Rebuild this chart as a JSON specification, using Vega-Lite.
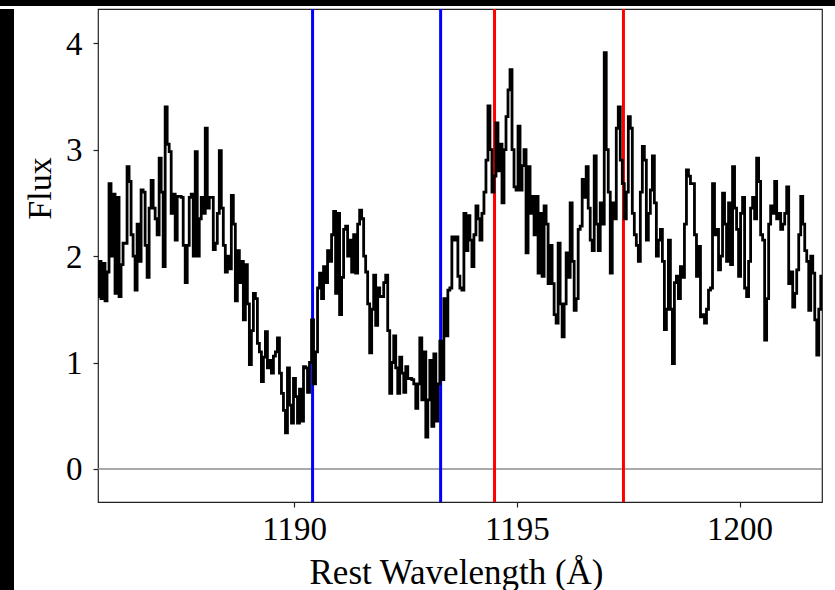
{
"$schema": "https://vega.github.io/schema/vega-lite/v6.json",
"background": "white",
"padding": 0,
"spacing": 0,
"config": {"font": "Liberation Serif", "view": {"stroke": null}},
"datasets": {
"spec": [
{"w":1185.600,"f":1.62},{"w":1185.645,"f":1.95},{"w":1185.690,"f":1.60},{"w":1185.735,"f":1.93},{"w":1185.780,"f":1.58},{"w":1185.825,"f":1.85},{"w":1185.870,"f":2.68},{"w":1185.915,"f":2.00},{"w":1185.960,"f":2.58},{"w":1186.005,"f":1.65},{"w":1186.050,"f":2.55},{"w":1186.095,"f":1.62},{"w":1186.140,"f":1.92},{"w":1186.185,"f":2.12},{"w":1186.230,"f":2.12},{"w":1186.275,"f":2.84},{"w":1186.320,"f":2.70},{"w":1186.365,"f":2.20},{"w":1186.410,"f":2.00},{"w":1186.455,"f":1.68},
{"w":1186.500,"f":2.30},{"w":1186.545,"f":1.95},{"w":1186.590,"f":2.62},{"w":1186.635,"f":2.60},{"w":1186.680,"f":2.10},{"w":1186.725,"f":1.80},{"w":1186.770,"f":2.45},{"w":1186.815,"f":2.71},{"w":1186.860,"f":2.45},{"w":1186.905,"f":2.35},{"w":1186.950,"f":2.20},{"w":1186.995,"f":2.92},{"w":1187.040,"f":2.60},{"w":1187.085,"f":1.90},{"w":1187.130,"f":3.40},{"w":1187.175,"f":3.05},{"w":1187.220,"f":2.98},{"w":1187.265,"f":2.40},{"w":1187.310,"f":2.58},{"w":1187.355,"f":2.15},
{"w":1187.400,"f":2.56},{"w":1187.445,"f":2.56},{"w":1187.490,"f":2.55},{"w":1187.535,"f":2.10},{"w":1187.580,"f":1.75},{"w":1187.625,"f":2.10},{"w":1187.670,"f":2.55},{"w":1187.715,"f":2.58},{"w":1187.760,"f":2.00},{"w":1187.805,"f":2.98},{"w":1187.850,"f":2.00},{"w":1187.895,"f":2.35},{"w":1187.940,"f":2.55},{"w":1187.985,"f":2.40},{"w":1188.030,"f":3.20},{"w":1188.075,"f":2.45},{"w":1188.120,"f":2.55},{"w":1188.165,"f":2.55},{"w":1188.210,"f":2.06},{"w":1188.255,"f":2.12},
{"w":1188.300,"f":2.40},{"w":1188.345,"f":2.99},{"w":1188.390,"f":2.45},{"w":1188.435,"f":2.10},{"w":1188.480,"f":1.85},{"w":1188.525,"f":2.00},{"w":1188.570,"f":1.88},{"w":1188.615,"f":2.57},{"w":1188.660,"f":2.30},{"w":1188.705,"f":1.58},{"w":1188.750,"f":2.05},{"w":1188.795,"f":1.75},{"w":1188.840,"f":1.95},{"w":1188.885,"f":1.40},{"w":1188.930,"f":1.92},{"w":1188.975,"f":1.55},{"w":1189.020,"f":0.98},{"w":1189.065,"f":1.30},{"w":1189.110,"f":1.65},{"w":1189.155,"f":1.60},
{"w":1189.200,"f":1.18},{"w":1189.245,"f":1.10},{"w":1189.290,"f":0.82},{"w":1189.335,"f":1.05},{"w":1189.380,"f":1.29},{"w":1189.425,"f":0.95},{"w":1189.470,"f":1.02},{"w":1189.515,"f":0.90},{"w":1189.560,"f":1.06},{"w":1189.605,"f":1.10},{"w":1189.650,"f":1.23},{"w":1189.695,"f":0.90},{"w":1189.740,"f":0.71},{"w":1189.785,"f":0.55},{"w":1189.830,"f":0.34},{"w":1189.875,"f":0.95},{"w":1189.920,"f":0.60},{"w":1189.965,"f":0.43},{"w":1190.010,"f":0.85},{"w":1190.055,"f":0.68},
{"w":1190.100,"f":0.43},{"w":1190.145,"f":0.75},{"w":1190.190,"f":0.45},{"w":1190.235,"f":0.96},{"w":1190.280,"f":0.95},{"w":1190.325,"f":0.72},{"w":1190.370,"f":1.00},{"w":1190.415,"f":1.40},{"w":1190.460,"f":0.80},{"w":1190.505,"f":1.10},{"w":1190.550,"f":1.70},{"w":1190.595,"f":1.84},{"w":1190.640,"f":1.60},{"w":1190.685,"f":1.90},{"w":1190.730,"f":1.75},{"w":1190.775,"f":2.05},{"w":1190.820,"f":1.95},{"w":1190.865,"f":2.20},{"w":1190.910,"f":2.42},{"w":1190.955,"f":1.65},
{"w":1191.000,"f":2.40},{"w":1191.045,"f":1.45},{"w":1191.090,"f":1.80},{"w":1191.135,"f":2.25},{"w":1191.180,"f":2.28},{"w":1191.225,"f":2.00},{"w":1191.270,"f":2.15},{"w":1191.315,"f":1.85},{"w":1191.360,"f":2.20},{"w":1191.405,"f":1.84},{"w":1191.450,"f":2.30},{"w":1191.495,"f":2.43},{"w":1191.540,"f":2.35},{"w":1191.585,"f":2.00},{"w":1191.630,"f":1.85},{"w":1191.675,"f":1.55},{"w":1191.720,"f":1.09},{"w":1191.765,"f":1.50},{"w":1191.810,"f":1.82},{"w":1191.855,"f":1.35},
{"w":1191.900,"f":1.70},{"w":1191.945,"f":1.62},{"w":1191.990,"f":1.62},{"w":1192.035,"f":1.75},{"w":1192.080,"f":1.82},{"w":1192.125,"f":1.30},{"w":1192.170,"f":0.71},{"w":1192.215,"f":1.00},{"w":1192.260,"f":1.25},{"w":1192.305,"f":0.95},{"w":1192.350,"f":0.71},{"w":1192.395,"f":1.05},{"w":1192.440,"f":0.90},{"w":1192.485,"f":0.72},{"w":1192.530,"f":0.96},{"w":1192.575,"f":0.85},{"w":1192.620,"f":0.85},{"w":1192.665,"f":0.84},{"w":1192.710,"f":0.80},{"w":1192.755,"f":0.57},
{"w":1192.800,"f":0.80},{"w":1192.845,"f":1.23},{"w":1192.890,"f":0.65},{"w":1192.935,"f":1.10},{"w":1192.980,"f":0.30},{"w":1193.025,"f":0.65},{"w":1193.070,"f":1.02},{"w":1193.115,"f":0.40},{"w":1193.160,"f":1.08},{"w":1193.205,"f":0.45},{"w":1193.250,"f":0.80},{"w":1193.295,"f":1.20},{"w":1193.340,"f":0.84},{"w":1193.385,"f":1.60},{"w":1193.430,"f":1.25},{"w":1193.475,"f":1.68},{"w":1193.520,"f":1.70},{"w":1193.565,"f":2.18},{"w":1193.610,"f":2.15},{"w":1193.655,"f":2.18},
{"w":1193.700,"f":1.81},{"w":1193.745,"f":1.70},{"w":1193.790,"f":1.68},{"w":1193.835,"f":2.40},{"w":1193.880,"f":2.05},{"w":1193.925,"f":2.38},{"w":1193.970,"f":2.15},{"w":1194.015,"f":1.90},{"w":1194.060,"f":2.20},{"w":1194.105,"f":2.47},{"w":1194.150,"f":2.35},{"w":1194.195,"f":2.15},{"w":1194.240,"f":2.40},{"w":1194.285,"f":2.60},{"w":1194.330,"f":2.90},{"w":1194.375,"f":3.41},{"w":1194.420,"f":3.00},{"w":1194.465,"f":2.60},{"w":1194.510,"f":2.75},{"w":1194.555,"f":3.25},
{"w":1194.600,"f":2.80},{"w":1194.645,"f":3.05},{"w":1194.690,"f":2.50},{"w":1194.735,"f":3.00},{"w":1194.780,"f":3.31},{"w":1194.825,"f":3.56},{"w":1194.870,"f":3.75},{"w":1194.915,"f":3.00},{"w":1194.960,"f":2.65},{"w":1195.005,"f":2.62},{"w":1195.050,"f":3.22},{"w":1195.095,"f":2.62},{"w":1195.140,"f":2.85},{"w":1195.185,"f":3.00},{"w":1195.230,"f":2.03},{"w":1195.275,"f":2.84},{"w":1195.320,"f":2.40},{"w":1195.365,"f":2.56},{"w":1195.410,"f":2.20},{"w":1195.455,"f":2.56},
{"w":1195.500,"f":1.84},{"w":1195.545,"f":2.40},{"w":1195.590,"f":1.81},{"w":1195.635,"f":2.47},{"w":1195.680,"f":2.30},{"w":1195.725,"f":1.74},{"w":1195.770,"f":2.10},{"w":1195.815,"f":1.74},{"w":1195.860,"f":1.45},{"w":1195.905,"f":1.37},{"w":1195.950,"f":2.12},{"w":1195.995,"f":1.55},{"w":1196.040,"f":1.24},{"w":1196.085,"f":1.55},{"w":1196.130,"f":2.03},{"w":1196.175,"f":1.80},{"w":1196.220,"f":2.50},{"w":1196.265,"f":1.95},{"w":1196.310,"f":1.49},{"w":1196.355,"f":1.60},
{"w":1196.400,"f":2.25},{"w":1196.445,"f":2.28},{"w":1196.490,"f":2.72},{"w":1196.535,"f":2.55},{"w":1196.580,"f":2.84},{"w":1196.625,"f":2.45},{"w":1196.670,"f":2.15},{"w":1196.715,"f":2.05},{"w":1196.760,"f":2.94},{"w":1196.805,"f":2.30},{"w":1196.850,"f":2.05},{"w":1196.895,"f":2.50},{"w":1196.940,"f":2.30},{"w":1196.985,"f":3.91},{"w":1197.030,"f":3.00},{"w":1197.075,"f":2.60},{"w":1197.120,"f":1.84},{"w":1197.165,"f":2.50},{"w":1197.210,"f":2.35},{"w":1197.255,"f":3.20},
{"w":1197.300,"f":3.40},{"w":1197.345,"f":2.90},{"w":1197.390,"f":2.68},{"w":1197.435,"f":2.35},{"w":1197.480,"f":2.60},{"w":1197.525,"f":3.31},{"w":1197.570,"f":3.20},{"w":1197.615,"f":2.40},{"w":1197.660,"f":2.20},{"w":1197.705,"f":2.10},{"w":1197.750,"f":1.95},{"w":1197.795,"f":2.60},{"w":1197.840,"f":3.03},{"w":1197.885,"f":2.90},{"w":1197.930,"f":2.15},{"w":1197.975,"f":2.40},{"w":1198.020,"f":2.62},{"w":1198.065,"f":2.94},{"w":1198.110,"f":2.50},{"w":1198.155,"f":2.00},
{"w":1198.200,"f":2.15},{"w":1198.245,"f":2.25},{"w":1198.290,"f":1.95},{"w":1198.335,"f":1.31},{"w":1198.380,"f":1.50},{"w":1198.425,"f":2.15},{"w":1198.470,"f":1.50},{"w":1198.515,"f":0.99},{"w":1198.560,"f":1.75},{"w":1198.605,"f":1.81},{"w":1198.650,"f":1.60},{"w":1198.695,"f":1.90},{"w":1198.740,"f":1.80},{"w":1198.785,"f":2.30},{"w":1198.830,"f":2.81},{"w":1198.875,"f":2.75},{"w":1198.920,"f":2.68},{"w":1198.965,"f":2.68},{"w":1199.010,"f":2.20},{"w":1199.055,"f":1.81},
{"w":1199.100,"f":2.09},{"w":1199.145,"f":1.43},{"w":1199.190,"f":1.45},{"w":1199.235,"f":1.37},{"w":1199.280,"f":1.50},{"w":1199.325,"f":1.68},{"w":1199.370,"f":1.70},{"w":1199.415,"f":2.68},{"w":1199.460,"f":2.20},{"w":1199.505,"f":2.25},{"w":1199.550,"f":1.87},{"w":1199.595,"f":2.00},{"w":1199.640,"f":2.59},{"w":1199.685,"f":2.30},{"w":1199.730,"f":1.95},{"w":1199.775,"f":2.50},{"w":1199.820,"f":1.92},{"w":1199.865,"f":2.84},{"w":1199.910,"f":2.45},{"w":1199.955,"f":2.25},
{"w":1200.000,"f":1.81},{"w":1200.045,"f":2.40},{"w":1200.090,"f":2.55},{"w":1200.135,"f":1.70},{"w":1200.180,"f":1.62},{"w":1200.225,"f":1.95},{"w":1200.270,"f":2.45},{"w":1200.315,"f":2.55},{"w":1200.360,"f":2.35},{"w":1200.405,"f":2.92},{"w":1200.450,"f":2.70},{"w":1200.495,"f":2.20},{"w":1200.540,"f":2.15},{"w":1200.585,"f":1.21},{"w":1200.630,"f":1.60},{"w":1200.675,"f":2.30},{"w":1200.720,"f":2.47},{"w":1200.765,"f":2.40},{"w":1200.810,"f":2.70},{"w":1200.855,"f":2.35},
{"w":1200.900,"f":2.40},{"w":1200.945,"f":2.25},{"w":1200.990,"f":2.30},{"w":1201.035,"f":2.40},{"w":1201.080,"f":2.65},{"w":1201.125,"f":1.74},{"w":1201.170,"f":1.85},{"w":1201.215,"f":1.52},{"w":1201.260,"f":1.65},{"w":1201.305,"f":1.87},{"w":1201.350,"f":2.20},{"w":1201.395,"f":2.56},{"w":1201.440,"f":2.30},{"w":1201.485,"f":2.05},{"w":1201.530,"f":1.95},{"w":1201.575,"f":1.49},{"w":1201.620,"f":2.00},{"w":1201.665,"f":1.84},{"w":1201.710,"f":1.40},{"w":1201.755,"f":1.07},
{"w":1201.800,"f":1.50},{"w":1201.845,"f":1.81},{"w":1201.890,"f":1.60}
],
"lines": [{"w":1190.416,"c":"#0000ff"},{"w":1193.290,"c":"#0000ff"},{"w":1194.500,"c":"#ff0000"},{"w":1197.394,"c":"#ff0000"}],
"zero": [{"y":0}]
},
"vconcat": [
 {"width": 835, "height": 6, "data": {"values": [{}]}, "mark": {"type": "rect", "color": "black"}, "encoding": {}, "view": {"fill": "black", "stroke": null}},
 {"spacing": 84, "bounds": "flush", "hconcat": [
  {"width": 14, "height": 584, "data": {"values": [{}]}, "mark": {"type": "rect", "color": "black"}, "encoding": {}, "view": {"fill": "black", "stroke": null}},
  {"width": 724, "height": 493,
   "view": {"stroke": "#222222", "strokeWidth": 1.2, "fill": "white"},
   "layer": [
    {"data": {"name": "zero"}, "mark": {"type": "rule", "color": "#8c8c8c", "strokeWidth": 1.3},
     "encoding": {"y": {"field": "y", "type": "quantitative",
       "scale": {"domain": [-0.31, 4.32], "nice": false, "zero": false},
       "axis": {"values": [0,1,2,3,4], "format": "d", "title": "Flux", "grid": false, "domain": false, "tickSize": 5, "tickColor": "#222222", "tickWidth": 1.2, "labelFont": "Liberation Serif", "labelFontSize": 33, "labelColor": "black", "labelPadding": 11, "labelFlush": false, "labelOverlap": false, "labelOffset": 1, "titleFont": "Liberation Serif", "titleFontSize": 34, "titleFontWeight": "normal", "titleColor": "black", "titleX": -58, "titleY": 179, "titleAngle": -90, "titleAlign": "center", "titleBaseline": "middle"}}}},
    {"data": {"name": "lines"}, "mark": {"type": "rule", "strokeWidth": 3},
     "encoding": {"x": {"field": "w", "type": "quantitative",
       "scale": {"domain": [1185.6, 1201.85], "nice": false, "zero": false},
       "axis": {"values": [1190,1195,1200], "format": "d", "title": "Rest Wavelength (Å)", "grid": false, "domain": false, "tickSize": 5, "tickColor": "#222222", "tickWidth": 1.2, "labelFont": "Liberation Serif", "labelFontSize": 33, "labelColor": "black", "labelPadding": 6, "labelFlush": false, "labelOverlap": false, "titleFont": "Liberation Serif", "titleFontSize": 35, "titleFontWeight": "normal", "titleColor": "black", "titleX": 358, "titleY": 81, "titleBaseline": "alphabetic"}},
      "color": {"field": "c", "type": "nominal", "scale": null}}},
    {"data": {"name": "spec"}, "mark": {"type": "line", "interpolate": "step", "color": "black", "strokeWidth": 2.8, "clip": true},
     "encoding": {"x": {"field": "w", "type": "quantitative"}, "y": {"field": "f", "type": "quantitative"}}}
   ]}
 ]}
]
}
